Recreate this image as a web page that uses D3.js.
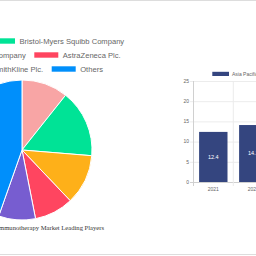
<!DOCTYPE html>
<html>
<head>
<meta charset="utf-8">
<script src="https://cdn.jsdelivr.net/npm/d3@7"></script>
<style>
  body { margin: 0; background: #fff; }
  svg { display: block; }
</style>
</head>
<body>
<div id="chart"></div>
<script>
// Leading players (pie)
var players = ["Merck & Co., Inc.", "Bristol-Myers Squibb Company", "Eli Lilly and Company",
               "AstraZeneca Plc.", "GlaxoSmithKline Plc.", "Others"];
var shares = [10.7, 15.6, 11.6, 9.0, 8.5, 44.6];
var pieColors = ["#f8a5a5", "#00e396", "#feb019", "#ff4560", "#775dd0", "#008ffb"];

// Market size (bars)
var years = ["2021", "2022"];
var sizes = [12.4, 14.1];
var yTicks = [0, 5, 10, 15, 20, 25];
var barSeries = "Asia Pacific Immunotherapy Market Size";

var svg = d3.select("#chart")
    .append("svg")
    .attr("width", 256)
    .attr("height", 256);

// page borders
svg.append("line").attr("x1", 0).attr("x2", 256).attr("y1", 0.5).attr("y2", 0.5)
    .attr("stroke", "#ddd");
svg.append("line").attr("x1", 0).attr("x2", 256).attr("y1", 254.5).attr("y2", 254.5)
    .attr("stroke", "#ddd");

// ---- PIE ----
var pie = d3.pie().sort(null).value(d => d);
var arc = d3.arc().innerRadius(0).outerRadius(70);

svg.append("g")
    .attr("transform", "translate(22,150)")
    .selectAll("path")
    .data(pie(shares))
    .enter()
    .append("path")
        .attr("d", arc)
        .attr("fill", (d, i) => pieColors[i])
        .attr("stroke", "#fff")
        .attr("stroke-width", 1);

// legend, two items per row; second item of each row at its place
var legend = svg.append("g").attr("class", "legend")
    .style("font-family", "'Liberation Sans', Arial, sans-serif")
    .style("font-size", "7.6px");
var rowX = [-9, 34.3, 51.7];
var rowY = [41, 55, 69];
for (var r = 0; r < 3; r++) {
    var a = r * 2, b = r * 2 + 1;
    var g = legend.append("g");
    g.append("rect").attr("x", rowX[r]).attr("y", rowY[r] - 2.7)
        .attr("width", 24).attr("height", 5.4).attr("fill", pieColors[b]);
    g.append("text").attr("x", rowX[r] + 28.5).attr("y", rowY[r]).attr("dy", "0.35em")
        .attr("fill", "#666").text(players[b]);
    var t = g.append("text").attr("x", rowX[r] - 8.6).attr("y", rowY[r]).attr("dy", "0.35em")
        .attr("text-anchor", "end").attr("fill", "#666").text(players[a]);
    var w = t.node().getComputedTextLength();
    g.append("rect").attr("x", rowX[r] - 8.6 - w - 4.5 - 24).attr("y", rowY[r] - 2.7)
        .attr("width", 24).attr("height", 5.4).attr("fill", pieColors[a]);
}

svg.append("text")
    .attr("x", 104).attr("y", 227.5).attr("dy", "0.35em")
    .attr("text-anchor", "end")
    .style("font-family", "'Liberation Serif', 'Times New Roman', serif")
    .style("font-size", "6.6px")
    .attr("fill", "#333")
    .text("Asia Pacific Immunotherapy Market Leading Players");

// ---- BARS ----
var x = d3.scaleBand().domain(years).range([193.3, 273.3]).paddingInner(0.29).paddingOuter(0.145);
var y = d3.scaleLinear().domain([0, 25]).range([182, 81]);

var bc = svg.append("g")
    .style("font-family", "'Liberation Sans', Arial, sans-serif")
    .style("font-size", "5px");

// horizontal grid
bc.selectAll(".hgrid").data(yTicks).enter().append("line")
    .attr("x1", 190).attr("x2", 256)
    .attr("y1", d => y(d) + 0.5).attr("y2", d => y(d) + 0.5)
    .attr("stroke", d => d === 0 ? "#d0d0d0" : "#ececec");
// vertical grid between categories
var step = x.step();
bc.selectAll(".vgrid").data(years).enter().append("line")
    .attr("x1", (d, i) => 193.3 + (i + 1) * step).attr("x2", (d, i) => 193.3 + (i + 1) * step)
    .attr("y1", 81).attr("y2", 186)
    .attr("stroke", "#ececec");
// y axis line
bc.append("line").attr("x1", 193.5).attr("x2", 193.5).attr("y1", 81).attr("y2", 186)
    .attr("stroke", "#d0d0d0");

bc.selectAll(".ylab").data(yTicks).enter().append("text")
    .attr("x", 189).attr("y", d => y(d)).attr("dy", "0.35em")
    .attr("text-anchor", "end").attr("fill", "#666").text(d => d);

bc.selectAll(".xlab").data(years).enter().append("text")
    .attr("x", d => x(d) + x.bandwidth() / 2).attr("y", 189.5).attr("dy", "0.35em")
    .attr("text-anchor", "middle").attr("fill", "#666").text(d => d);

bc.selectAll(".bar").data(sizes).enter().append("rect")
    .attr("x", (d, i) => x(years[i]))
    .attr("y", d => y(d))
    .attr("width", x.bandwidth())
    .attr("height", d => y(0) - y(d))
    .attr("fill", "#34457f");

bc.selectAll(".blab").data(sizes).enter().append("text")
    .attr("x", (d, i) => x(years[i]) + x.bandwidth() / 2)
    .attr("y", d => (y(d) + y(0)) / 2).attr("dy", "0.35em")
    .attr("text-anchor", "middle").attr("fill", "#fff")
    .style("font-size", "5.5px")
    .text(d => d);

// bar legend
bc.append("rect").attr("x", 212.3).attr("y", 71.8).attr("width", 16.7).attr("height", 4.2)
    .attr("fill", "#34457f");
bc.append("text").attr("x", 232).attr("y", 74).attr("dy", "0.35em")
    .attr("fill", "#666").text(barSeries);
</script>
</body>
</html>
